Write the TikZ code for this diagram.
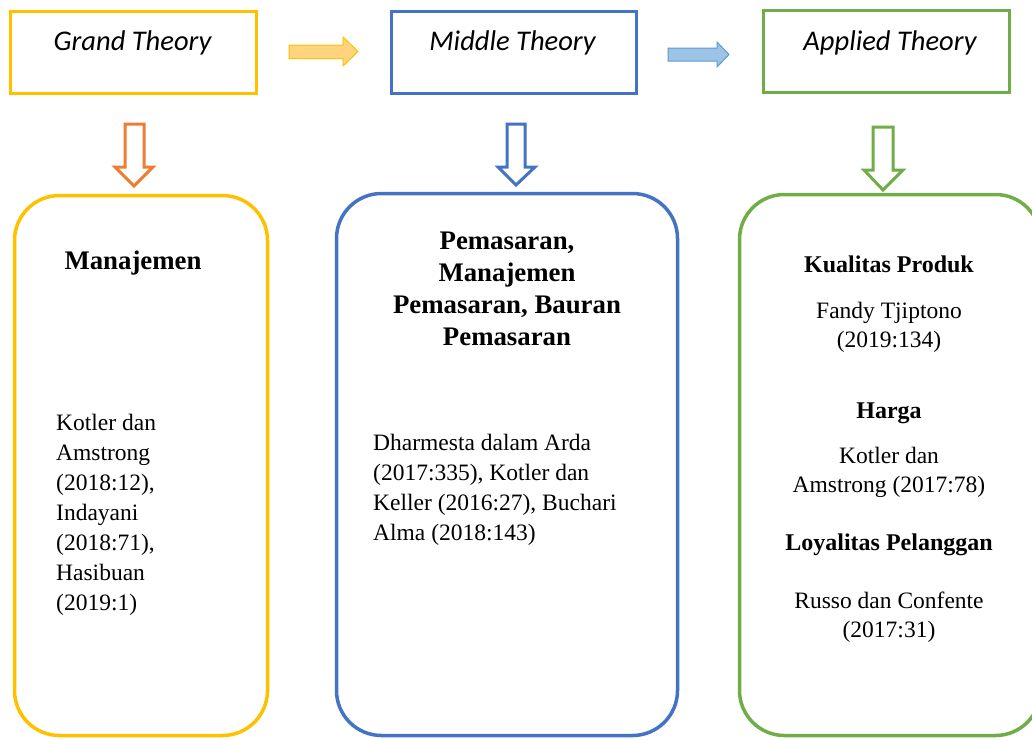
\documentclass[tikz,border=0pt]{standalone}
\usepackage{fontspec}
\setmainfont{Liberation Serif}
\newfontfamily\calibri{Carlito}
\definecolor{cyel}{HTML}{FFC000}
\definecolor{cblue}{HTML}{4472C4}
\definecolor{cgreen}{HTML}{70AD47}
\definecolor{corange}{HTML}{ED7D31}
\definecolor{afillA}{HTML}{FFD47F}
\definecolor{afillB}{HTML}{9DC3E6}
\definecolor{alineB}{HTML}{5B9BD5}
\begin{document}
\begin{tikzpicture}[x=1pt,y=-1pt,
  ttl/.style={font=\calibri\itshape\fontsize{28.5}{34}\selectfont, inner sep=0, anchor=base},
  reg/.style={font=\fontsize{23.5}{30}\selectfont, inner sep=0},
  regc/.style={font=\fontsize{23.5}{29}\selectfont, inner sep=0, anchor=base, align=center},
  bld/.style={font=\bfseries\fontsize{26.8}{32}\selectfont, inner sep=0},
  bldsm/.style={font=\bfseries\fontsize{24}{29}\selectfont, inner sep=0, anchor=base},
  topbox/.style={draw, line width=3pt, inner sep=0, minimum height=82pt},
  roundbox/.style={draw, line width=3.5pt, inner sep=0, rounded corners=45pt},
  downarrow/.style={draw, line width=3pt, fill=white},
]
\useasboundingbox (0,0) rectangle (1032,739);
\clip (0,0) rectangle (1032,739);

% top boxes
\node[topbox, draw=cyel, minimum width=246pt] (gbox) at (133.5,52.5) {};
\node[topbox, draw=cblue, minimum width=245pt] (mbox) at (514,52) {};
\node[topbox, draw=cgreen, minimum width=246pt] (abox) at (886.5,51.5) {};
\node[ttl] (gtxt) at (132.5,50) {Grand Theory};
\node[ttl] (mtxt) at (512.5,50) {Middle Theory};
\node[ttl] (atxt) at (890,50) {Applied Theory};

% horizontal block arrows
\draw[draw=cyel, fill=afillA, line width=1pt]
  (289,45) -- (343,45) -- (343,37) -- (358,51.5) -- (343,66) -- (343,58.5) -- (289,58.5) -- cycle;
\draw[draw=alineB, fill=afillB, line width=1pt]
  (668,48) -- (717,48) -- (717,42) -- (729,54.5) -- (717,67) -- (717,61) -- (668,61) -- cycle;

% down arrows
\draw[downarrow, draw=corange]
  (125,124) -- (144,124) -- (144,167) -- (153,167) -- (134,186) -- (115,167) -- (125,167) -- cycle;
\draw[downarrow, draw=cblue]
  (507,124) -- (525,124) -- (525,167) -- (535,167) -- (516,185) -- (498,167) -- (507,167) -- cycle;
\draw[downarrow, draw=cgreen]
  (873,127) -- (893,127) -- (893,170) -- (903,170) -- (883,190) -- (864,170) -- (873,170) -- cycle;

% rounded boxes
\node[roundbox, draw=cyel, minimum width=253pt, minimum height=540pt] (gcard) at (141,465.5) {};
\node[roundbox, draw=cblue, minimum width=341pt, minimum height=542pt] (mcard) at (507,464.5) {};
\node[roundbox, draw=cgreen, minimum width=301pt, minimum height=541pt] (acard) at (890,465) {};

% left card text
\node[bld, anchor=base] (gh) at (133,269) {Manajemen};
\node[reg, anchor=base west, align=left] (gl) at (56,610)
  {Kotler dan\\Amstrong\\(2018:12),\\Indayani\\(2018:71),\\Hasibuan\\(2019:1)};

% middle card text
\node[bld, anchor=base, align=center] (mh) at (507,345)
  {Pemasaran,\\Manajemen\\Pemasaran, Bauran\\Pemasaran};
\node[reg, anchor=base west, align=left] (ml) at (373,540)
  {Dharmesta dalam Arda\\(2017:335), Kotler dan\\Keller (2016:27), Buchari\\Alma (2018:143)};

% right card text
\node[bldsm] (ah1) at (889,272) {Kualitas Produk};
\node[regc] (al1) at (889,347) {Fandy Tjiptono\\(2019:134)};
\node[bldsm] (ah2) at (889,418) {Harga};
\node[regc] (al2) at (889,492) {Kotler dan\\Amstrong (2017:78)};
\node[bldsm] (ah3) at (889,550) {Loyalitas Pelanggan};
\node[regc] (al3) at (889,637) {Russo dan Confente\\(2017:31)};
\end{tikzpicture}
\end{document}
